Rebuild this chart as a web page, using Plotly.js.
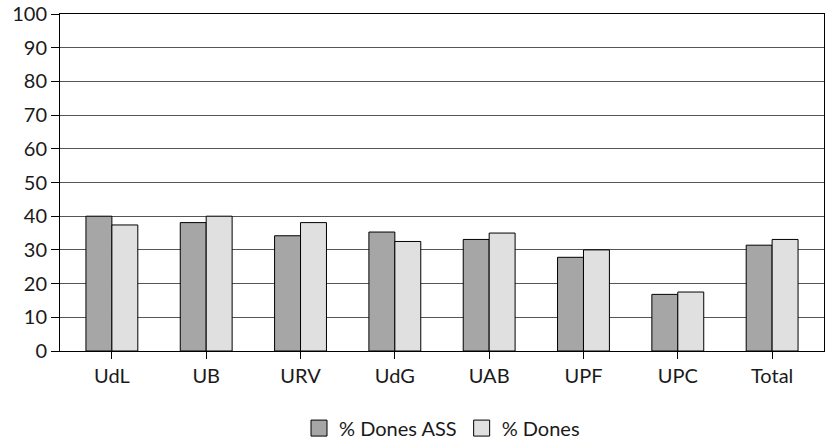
<!DOCTYPE html>
<html>
<head>
<meta charset="utf-8">
<script src="https://cdn.plot.ly/plotly-3.0.1.min.js"></script>
<style>html,body{margin:0;padding:0;background:#fff;}#chart{width:827px;height:445px;}</style>
</head>
<body>
<div id="chart"></div>
<script>
const categories = ["UdL", "UB", "URV", "UdG", "UAB", "UPF", "UPC", "Total"];
const seriesNames = ["% Dones ASS", "% Dones"];
const seriesColors = ["#a6a6a6", "#e0e0e0"];
const donesASS = [40, 38.1, 34.2, 35.3, 33.1, 27.8, 16.8, 31.4];
const dones = [37.4, 40, 38.1, 32.5, 35.0, 30, 17.5, 33.1];
const yTicks = [0, 10, 20, 30, 40, 50, 60, 70, 80, 90, 100];

const font = {family: "Lato, 'Open Sans', sans-serif", size: 20, color: "#1a1a1a"};

const traces = [
  {type: "bar", name: seriesNames[0], x: categories, y: donesASS, showlegend: false,
   marker: {color: seriesColors[0], line: {color: "#000", width: 1}}},
  {type: "bar", name: seriesNames[1], x: categories, y: dones, showlegend: false,
   marker: {color: seriesColors[1], line: {color: "#000", width: 1}}},
  // legend entries (larger square swatches)
  {type: "scatter", mode: "markers", name: seriesNames[0], x: [null], y: [null], hoverinfo: "skip",
   marker: {symbol: "square", size: 16, color: seriesColors[0], line: {color: "#000", width: 1}}},
  {type: "scatter", mode: "markers", name: seriesNames[1], x: [null], y: [null], hoverinfo: "skip",
   marker: {symbol: "square", size: 16, color: seriesColors[1], line: {color: "#000", width: 1}}}
];

const layout = {
  width: 827, height: 445,
  margin: {l: 60, r: 3, t: 14, b: 94},
  paper_bgcolor: "#fff", plot_bgcolor: "#fff",
  font: font,
  barmode: "group", bargap: 0.45, bargroupgap: 0,
  showlegend: true,
  legend: {orientation: "h", xref: "paper", x: 0.5, xanchor: "center",
           yref: "container", y: 0.038, yanchor: "middle",
           font: font, itemwidth: 30, traceorder: "normal"},
  xaxis: {type: "category", range: [-0.55, 7.55], showline: true, linecolor: "#000", linewidth: 1,
          mirror: true, ticks: "outside", ticklen: 7, tickcolor: "#000", showgrid: false,
          tickfont: font, fixedrange: true, automargin: false},
  yaxis: {range: [0, 100], tickvals: yTicks, ticktext: yTicks.map(String),
          showline: true, linecolor: "#000", linewidth: 1, mirror: true,
          ticks: "outside", ticklen: 8, tickcolor: "#000",
          showgrid: true, gridcolor: "#555", gridwidth: 1, zeroline: false,
          tickfont: font, fixedrange: true, automargin: false}
};

Plotly.newPlot("chart", traces, layout, {displayModeBar: false, staticPlot: true});
</script>
</body>
</html>
